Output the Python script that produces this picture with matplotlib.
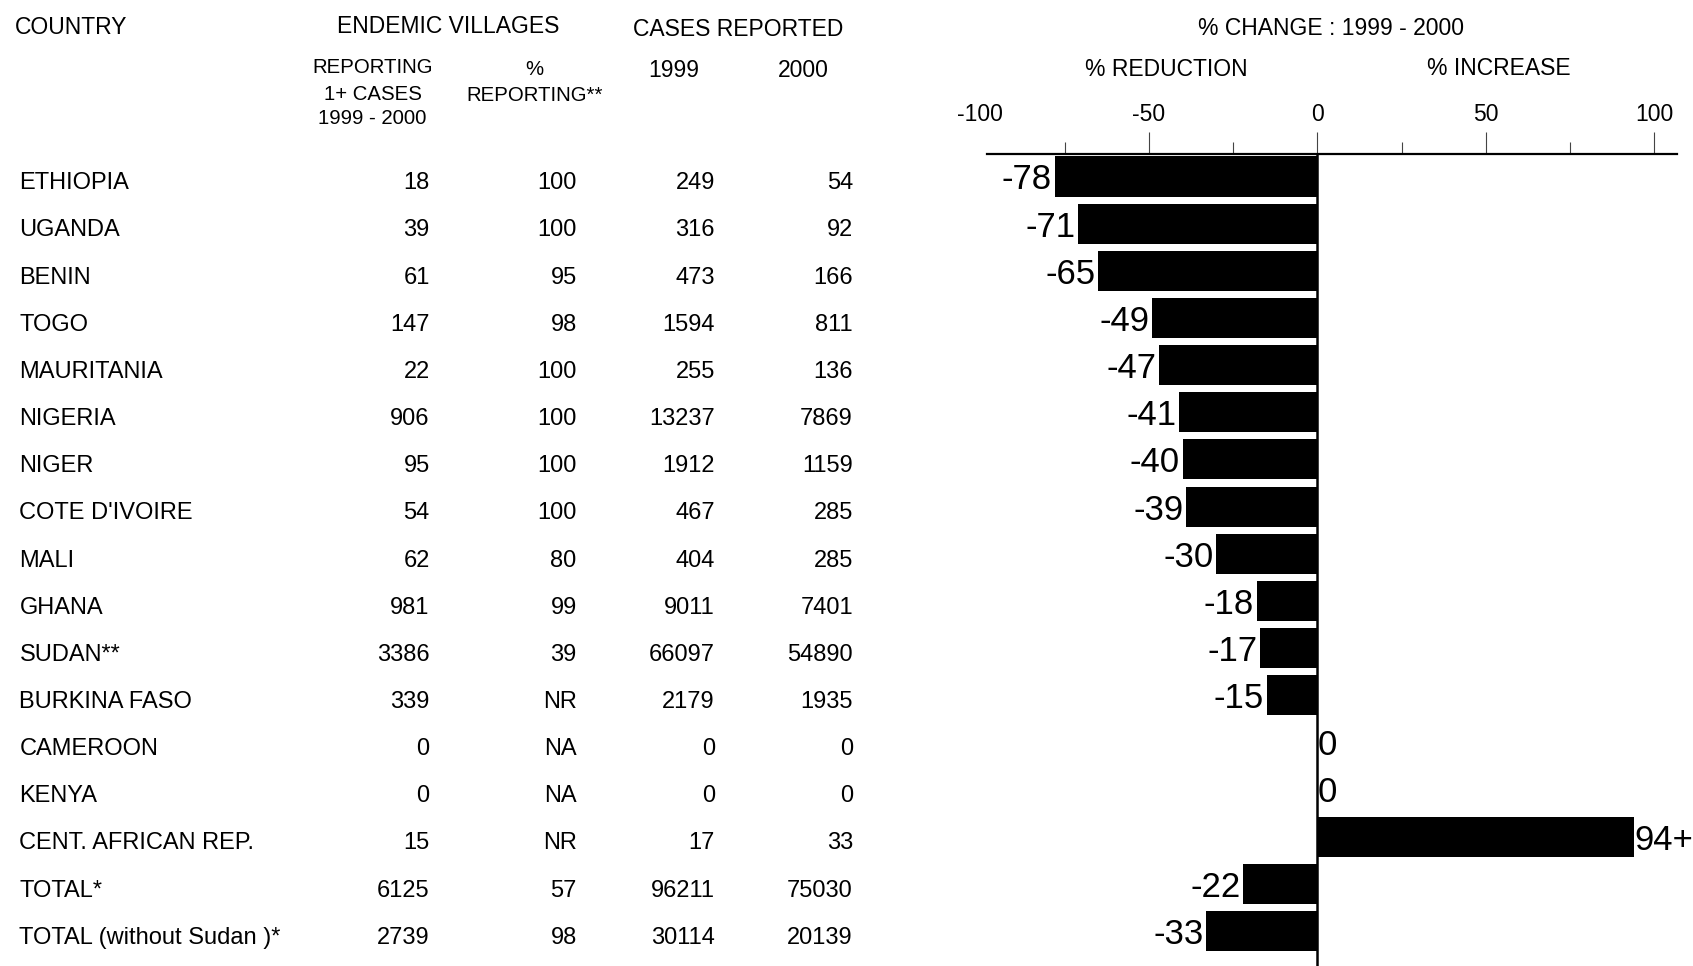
import matplotlib.pyplot as plt
import matplotlib.transforms as mtransforms

plt.rcParams['font.family'] = ['Liberation Sans', 'DejaVu Sans']
plt.rcParams['axes.unicode_minus'] = False

countries = ['ETHIOPIA', 'UGANDA', 'BENIN', 'TOGO', 'MAURITANIA', 'NIGERIA', 'NIGER',
             "COTE D'IVOIRE", 'MALI', 'GHANA', 'SUDAN**', 'BURKINA FASO', 'CAMEROON',
             'KENYA', 'CENT. AFRICAN REP.', 'TOTAL*', 'TOTAL (without Sudan )*']
villages = ['18', '39', '61', '147', '22', '906', '95', '54', '62', '981', '3386', '339',
            '0', '0', '15', '6125', '2739']
pct_reporting = ['100', '100', '95', '98', '100', '100', '100', '100', '80', '99', '39',
                 'NR', 'NA', 'NA', 'NR', '57', '98']
cases_1999 = ['249', '316', '473', '1594', '255', '13237', '1912', '467', '404', '9011',
              '66097', '2179', '0', '0', '17', '96211', '30114']
cases_2000 = ['54', '92', '166', '811', '136', '7869', '1159', '285', '285', '7401',
              '54890', '1935', '0', '0', '33', '75030', '20139']
pct_change = [-78, -71, -65, -49, -47, -41, -40, -39, -30, -18, -17, -15, 0, 0, 94, -22, -33]
change_labels = ['-78', '-71', '-65', '-49', '-47', '-41', '-40', '-39', '-30', '-18',
                 '-17', '-15', '0', '0', '94+', '-22', '-33']

fig = plt.figure(figsize=(16.93, 9.66), dpi=100)
ax = fig.add_axes([0.5791, 0.0, 0.9904 - 0.5791, 0.8402])

rows = list(range(len(countries)))
ax.barh(rows, pct_change, height=0.85, color='black')
ax.set_xlim(-100, 106.7)
ax.set_ylim(16.744, -0.469)

# zero line
ax.axvline(0, color='black', lw=1.8)

# value labels next to the bars
for r, v, lab in zip(rows, pct_change, change_labels):
    if v < 0:
        ax.annotate(lab, xy=(v, r), xytext=(-2, -2.5), textcoords='offset points',
                    ha='right', va='center', fontsize=25)
    else:
        ax.annotate(lab, xy=(v, r), xytext=(0.5, -2.5), textcoords='offset points',
                    ha='left', va='center', fontsize=25)

# axis on top only
for s in ['left', 'right', 'bottom']:
    ax.spines[s].set_visible(False)
ax.spines['top'].set_linewidth(1.6)
ax.spines['top'].set_bounds(-98, 106.7)
ax.set_yticks([])
ax.xaxis.set_ticks_position('top')
ax.set_xticks([-100, -50, 0, 50, 100])
ax.set_xticks([-75, -25, 25, 75], minor=True)
ax.tick_params(axis='x', which='major', length=15.5, width=0.8, color='#444444',
               labelsize=16.5, pad=5)
ax.tick_params(axis='x', which='minor', length=8.5, width=0.8, color='#444444')
ax.xaxis.get_major_ticks()[0].tick2line.set_visible(False)

# table columns, aligned with the bar rows
trans = mtransforms.blended_transform_factory(fig.transFigure, ax.transData)
row_fs = 17
for r in rows:
    y = r + 0.145
    ax.text(0.0115, y, countries[r], transform=trans, ha='left', va='center', fontsize=row_fs)
    ax.text(0.2538, y, villages[r], transform=trans, ha='right', va='center', fontsize=row_fs)
    ax.text(0.3406, y, pct_reporting[r], transform=trans, ha='right', va='center', fontsize=row_fs)
    ax.text(0.4222, y, cases_1999[r], transform=trans, ha='right', va='center', fontsize=row_fs)
    ax.text(0.5038, y, cases_2000[r], transform=trans, ha='right', va='center', fontsize=row_fs)

# headers
hfs = 16.5
sfs = 14.7
fig.text(0.0089, 0.9718, 'COUNTRY', ha='left', va='center', fontsize=hfs)
fig.text(0.2647, 0.9729, 'ENDEMIC VILLAGES', ha='center', va='center', fontsize=hfs)
fig.text(0.4362, 0.9696, 'CASES REPORTED', ha='center', va='center', fontsize=hfs)
fig.text(0.2200, 0.9300, 'REPORTING', ha='center', va='center', fontsize=sfs)
fig.text(0.2200, 0.9020, '1+ CASES', ha='center', va='center', fontsize=sfs)
fig.text(0.2200, 0.8774, '1999 - 2000', ha='center', va='center', fontsize=sfs)
fig.text(0.3157, 0.9282, '%', ha='center', va='center', fontsize=sfs)
fig.text(0.3157, 0.9010, 'REPORTING**', ha='center', va='center', fontsize=sfs)
fig.text(0.3980, 0.9268, '1999', ha='center', va='center', fontsize=hfs)
fig.text(0.4745, 0.9268, '2000', ha='center', va='center', fontsize=hfs)
fig.text(0.7864, 0.9707, '% CHANGE : 1999 - 2000', ha='center', va='center', fontsize=hfs)
fig.text(0.6888, 0.9279, '% REDUCTION', ha='center', va='center', fontsize=hfs)
fig.text(0.8852, 0.9296, '% INCREASE', ha='center', va='center', fontsize=hfs)

fig.savefig('out.png', dpi=100)
